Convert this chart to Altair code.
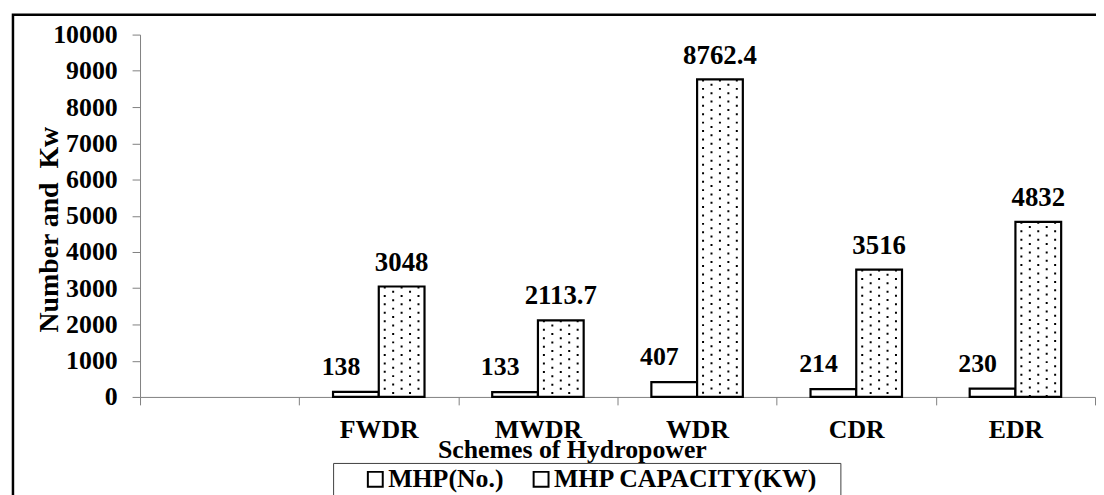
import altair as alt
import pandas as pd

categories = [" ", "FWDR", "MWDR", "WDR", "CDR", "EDR"]
mhp_count = [138, 133, 407, 214, 230]
mhp_capacity = [3048, 2113.7, 8762.4, 3516, 4832]
series = ["MHP(No.)", "MHP CAPACITY(KW)"]
y_ticks = [0, 1000, 2000, 3000, 4000, 5000, 6000, 7000, 8000, 9000, 10000]

rows = []
for cat, n, cap in zip(categories[1:], mhp_count, mhp_capacity):
    rows.append({"cat": cat, "series": series[0], "value": n, "label": f"{n:g}"})
    rows.append({"cat": cat, "series": series[1], "value": cap, "label": f"{cap:g}"})
df = pd.DataFrame(rows)

FONT = "Liberation Serif"
FS = 26

x_enc = alt.X("cat:N", scale=alt.Scale(domain=categories, paddingInner=0, paddingOuter=0),
              sort=categories,
              axis=alt.Axis(tickBand="extent", labelAngle=0, grid=False,
                            domainColor="#808080", tickColor="#808080", tickSize=8,
                            labelFont=FONT, labelFontSize=FS, labelFontWeight="bold",
                            labelColor="black", labelPadding=12,
                            title="Schemes of Hydropower", titleFont=FONT,
                            titleFontSize=FS, titleFontWeight="bold", titleColor="black",
                            titleX=435, titleY=61, titleBaseline="alphabetic",
                            titleAlign="center"))
xoff_enc = alt.XOffset("series:N", sort=series,
                       scale=alt.Scale(domain=series, paddingInner=0, paddingOuter=0.74))
y_enc = alt.Y("value:Q", scale=alt.Scale(domain=[0, 10000], nice=False),
              axis=alt.Axis(values=y_ticks, tickCount=11, format="d", labelOverlap=False,
                            grid=False,
                            domainColor="#808080", tickColor="#808080", tickSize=8,
                            labelFont=FONT, labelFontSize=FS, labelFontWeight="bold",
                            labelColor="black", labelPadding=15,
                            title="Number and\u00a0\u00a0Kw", titleFont=FONT, titleFontSize=28,
                            titleFontWeight="bold", titleColor="black",
                            titleAngle=270, titleX=-83, titleY=196,
                            titleBaseline="alphabetic", titleAlign="center"))

base = alt.Chart(df)

bars = base.mark_bar(stroke="black", strokeWidth=2.2).encode(
    x=x_enc,
    xOffset=xoff_enc,
    y=y_enc,
    color=alt.Color("series:N", sort=series,
                    scale=alt.Scale(domain=series, range=["white", "white"]),
                    legend=alt.Legend(title=None, orient="none", direction="horizontal",
                                      legendX=224, legendY=435, padding=0,
                                      symbolType="square", symbolSize=225,
                                      symbolStrokeColor="black", symbolStrokeWidth=2,
                                      labelFont=FONT, labelFontSize=FS,
                                      labelFontWeight="bold", labelColor="black",
                                      labelOffset=0, columnPadding=24,
                                      labelLimit=400)),
)

dot_offsets = [6, 14.5, 23, 31.5, 40]
dot_layers = []
for i, off in enumerate(dot_offsets):
    dot_layers.append(
        base.transform_filter(alt.datum.series == series[1])
        .mark_rule(color="black", strokeWidth=2, strokeDash=[2, 6.5],
                   strokeDashOffset=(0 if i % 2 == 0 else 4.2), xOffset=off)
        .encode(x=x_enc, y=y_enc, y2=alt.datum(0))
    )

lab_count = base.transform_filter(alt.datum.series == series[0]).mark_text(
    font=FONT, fontSize=FS, fontWeight="bold", color="black",
    baseline="alphabetic", dy=-17, dx=-15
).encode(x=x_enc, xOffset=xoff_enc, y=y_enc, text="label:N")

lab_cap = base.transform_filter(alt.datum.series == series[1]).mark_text(
    font=FONT, fontSize=27, fontWeight="bold", color="black",
    baseline="alphabetic", dy=-16
).encode(x=x_enc, xOffset=xoff_enc, y=y_enc, text="label:N")

one = alt.Chart(pd.DataFrame({"a": [0]}))
legend_box = one.mark_rect(fillOpacity=0, stroke="#404040", strokeWidth=1).encode(
    x=alt.value(195), x2=alt.value(706), y=alt.value(432), y2=alt.value(520))
border = one.mark_rect(fillOpacity=0, stroke="black", strokeWidth=2.5).encode(
    x=alt.value(-128), x2=alt.value(1100), y=alt.value(-20), y2=alt.value(600))

chart = alt.layer(bars, *dot_layers, lab_count, lab_cap, legend_box, border).properties(
    width=962, height=365,
    autosize=alt.AutoSizeParams(type="none"),
    padding={"left": 133, "top": 25, "right": 1, "bottom": 97},
    background="white",
).configure_view(stroke="transparent").configure_axisY(labelOverlap=False)

chart.save("out.html", embed_options={"renderer": "svg", "actions": False})
